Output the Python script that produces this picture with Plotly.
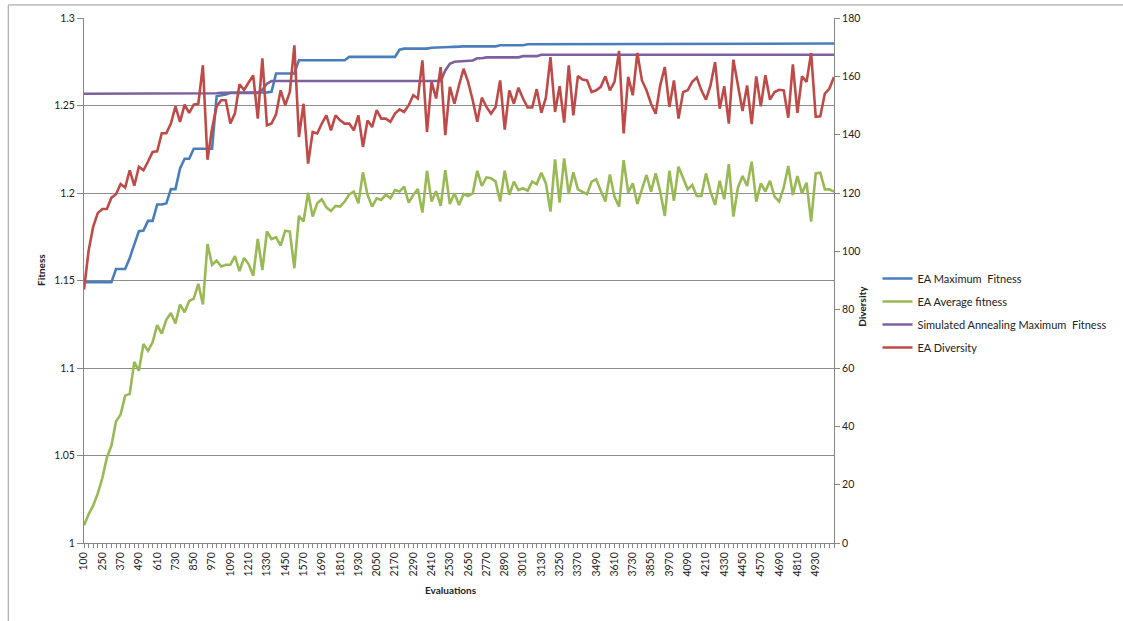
import plotly.graph_objects as go

# Evaluation counts on the category axis (every 4th one is labelled)
evaluations = [
    100, 160, 190, 220, 250, 280, 310, 340, 370, 400, 430, 460, 490, 520, 550, 580,
    610, 640, 670, 700, 730, 760, 790, 820, 850, 880, 910, 940, 970, 1000, 1030, 1060,
    1090, 1120, 1150, 1180, 1210, 1240, 1270, 1300, 1330, 1360, 1390, 1420, 1450, 1480,
    1510, 1540, 1570, 1600, 1630, 1660, 1690, 1720, 1750, 1780, 1810, 1840, 1870, 1900,
    1930, 1960, 1990, 2020, 2050, 2080, 2110, 2140, 2170, 2200, 2230, 2260, 2290, 2320,
    2350, 2380, 2410, 2440, 2470, 2500, 2530, 2560, 2590, 2620, 2650, 2680, 2710, 2740,
    2770, 2800, 2830, 2860, 2890, 2920, 2950, 2980, 3010, 3040, 3070, 3100, 3130, 3160,
    3190, 3220, 3250, 3280, 3310, 3340, 3370, 3400, 3430, 3460, 3490, 3520, 3550, 3580,
    3610, 3640, 3670, 3700, 3730, 3760, 3790, 3820, 3850, 3880, 3910, 3940, 3970, 4000,
    4030, 4060, 4090, 4120, 4150, 4180, 4210, 4240, 4270, 4300, 4330, 4360, 4390, 4420,
    4450, 4480, 4510, 4540, 4570, 4600, 4630, 4660, 4690, 4720, 4750, 4780, 4810, 4840,
    4870, 4900, 4930, 4960, 4990, 5020, 5050,
]

tick_labels = [
    "100", "250", "370", "490", "610", "730", "850", "970", "1090", "1210", "1330",
    "1450", "1570", "1690", "1810", "1930", "2050", "2170", "2290", "2410", "2530",
    "2650", "2770", "2890", "3010", "3130", "3250", "3370", "3490", "3610", "3730",
    "3850", "3970", "4090", "4210", "4330", "4450", "4570", "4690", "4810", "4930",
]

ea_max_fitness = [
    1.1491, 1.1491, 1.1491, 1.1491, 1.1491, 1.1491, 1.1491, 1.1566, 1.1566, 1.1566,
    1.1629, 1.1708, 1.1782, 1.1786, 1.1841, 1.1841, 1.1934, 1.1934, 1.1940, 1.2022,
    1.2022, 1.2140, 1.2196, 1.2196, 1.2253, 1.2253, 1.2253, 1.2253, 1.2253, 1.2553,
    1.2556, 1.2563, 1.2573, 1.2573, 1.2573, 1.2573, 1.2573, 1.2573, 1.2573, 1.2573,
    1.2575, 1.2578, 1.2683, 1.2683, 1.2683, 1.2683, 1.2683, 1.2759, 1.2759, 1.2759,
    1.2759, 1.2759, 1.2759, 1.2759, 1.2759, 1.2759, 1.2759, 1.2759, 1.2778, 1.2778,
    1.2778, 1.2778, 1.2778, 1.2778, 1.2778, 1.2778, 1.2778, 1.2778, 1.2778, 1.2819,
    1.2825, 1.2825, 1.2825, 1.2825, 1.2825, 1.2825, 1.2830, 1.2830, 1.2830, 1.2832,
    1.2834, 1.2835, 1.2838, 1.2838, 1.2838, 1.2838, 1.2838, 1.2838, 1.2838, 1.2838,
    1.2838, 1.2844, 1.2844, 1.2844, 1.2844, 1.2844, 1.2844, 1.2850, 1.2850, 1.2850,
    1.2850, 1.2850, 1.2850, 1.2850, 1.2854, 1.2854, 1.2854, 1.2854, 1.2854, 1.2854,
    1.2854, 1.2854, 1.2854, 1.2854, 1.2854, 1.2854, 1.2854, 1.2854, 1.2854, 1.2854,
    1.2854, 1.2854, 1.2854, 1.2854, 1.2854, 1.2854, 1.2854, 1.2854, 1.2854, 1.2854,
    1.2854, 1.2854, 1.2854, 1.2854, 1.2854, 1.2854, 1.2854, 1.2854, 1.2854, 1.2854,
    1.2854, 1.2854, 1.2854, 1.2854, 1.2854, 1.2854, 1.2854, 1.2854, 1.2854, 1.2854,
    1.2854, 1.2854, 1.2854, 1.2854, 1.2854, 1.2854, 1.2854, 1.2854, 1.2854, 1.2854,
    1.2854, 1.2854, 1.2854, 1.2854, 1.2854,
]

ea_avg_fitness = [
    1.0101, 1.0164, 1.0213, 1.0282, 1.0370, 1.0488, 1.0557, 1.0695, 1.0734, 1.0842,
    1.0852, 1.1035, 1.0984, 1.1137, 1.1098, 1.1147, 1.1245, 1.1196, 1.1275, 1.1314,
    1.1255, 1.1363, 1.1318, 1.1383, 1.1397, 1.1481, 1.1363, 1.1708, 1.1590, 1.1613,
    1.1580, 1.1590, 1.1590, 1.1639, 1.1554, 1.1629, 1.1594, 1.1527, 1.1737, 1.1560,
    1.1780, 1.1737, 1.1747, 1.1700, 1.1785, 1.1780, 1.1570, 1.1869, 1.1837, 1.2002,
    1.1865, 1.1941, 1.1964, 1.1918, 1.1897, 1.1926, 1.1922, 1.1951, 1.1992, 1.2008,
    1.1941, 1.2118, 1.1989, 1.1922, 1.1970, 1.1960, 1.1992, 1.1970, 1.2017, 1.2008,
    1.2036, 1.1945, 1.1989, 1.2023, 1.1888, 1.2127, 1.1951, 1.2011, 1.1926, 1.2131,
    1.1937, 1.1998, 1.1932, 1.1994, 1.1983, 1.1998, 1.2127, 1.2040, 1.2089, 1.2084,
    1.2065, 1.1951, 1.2127, 1.1989, 1.2065, 1.2017, 1.2027, 1.2013, 1.2065, 1.2051,
    1.2116, 1.2055, 1.1894, 1.2192, 1.1945, 1.2198, 1.1994, 1.2118, 1.2021, 1.2008,
    1.1994, 1.2065, 1.2078, 1.2013, 1.1951, 1.2106, 1.1979, 1.1922, 1.2188, 1.2002,
    1.2055, 1.1937, 1.2017, 1.2103, 1.2008, 1.2112, 1.2008, 1.1869, 1.2127, 1.1956,
    1.2150, 1.2084, 1.2021, 1.2046, 1.1983, 1.1983, 1.2112, 1.2008, 1.1932, 1.2070,
    1.1964, 1.2165, 1.1865, 1.2032, 1.2097, 1.2040, 1.2179, 1.1951, 1.2055, 1.2008,
    1.2070, 1.1979, 1.1951, 1.2030, 1.2154, 1.1989, 1.2097, 1.1998, 1.2059, 1.1837,
    1.2112, 1.2116, 1.2021, 1.2021, 1.2008,
]

sa_max_fitness = [
    1.2567, 1.2567, 1.2567, 1.2567, 1.2567, 1.2567, 1.2567, 1.2567, 1.2567, 1.2567,
    1.2567, 1.2567, 1.2567, 1.2567, 1.2567, 1.2567, 1.2567, 1.2567, 1.2567, 1.2567,
    1.2567, 1.2567, 1.2567, 1.2567, 1.2567, 1.2567, 1.2567, 1.2567, 1.2567, 1.2570,
    1.2572, 1.2572, 1.2572, 1.2572, 1.2572, 1.2572, 1.2572, 1.2572, 1.2572, 1.2590,
    1.2625, 1.2640, 1.2640, 1.2640, 1.2640, 1.2640, 1.2640, 1.2640, 1.2640, 1.2640,
    1.2640, 1.2640, 1.2640, 1.2640, 1.2640, 1.2640, 1.2640, 1.2640, 1.2640, 1.2640,
    1.2640, 1.2640, 1.2640, 1.2640, 1.2640, 1.2640, 1.2640, 1.2640, 1.2640, 1.2640,
    1.2640, 1.2640, 1.2640, 1.2640, 1.2640, 1.2640, 1.2640, 1.2640, 1.2640, 1.2700,
    1.2739, 1.2750, 1.2752, 1.2757, 1.2757, 1.2757, 1.2770, 1.2770, 1.2775, 1.2775,
    1.2775, 1.2775, 1.2775, 1.2775, 1.2775, 1.2775, 1.2782, 1.2782, 1.2782, 1.2782,
    1.2790, 1.2790, 1.2790, 1.2790, 1.2790, 1.2790, 1.2790, 1.2790, 1.2790, 1.2790,
    1.2790, 1.2790, 1.2790, 1.2790, 1.2790, 1.2790, 1.2790, 1.2790, 1.2790, 1.2790,
    1.2790, 1.2790, 1.2790, 1.2790, 1.2790, 1.2790, 1.2790, 1.2790, 1.2790, 1.2790,
    1.2790, 1.2790, 1.2790, 1.2790, 1.2790, 1.2790, 1.2790, 1.2790, 1.2790, 1.2790,
    1.2790, 1.2790, 1.2790, 1.2790, 1.2790, 1.2790, 1.2790, 1.2790, 1.2790, 1.2790,
    1.2790, 1.2790, 1.2790, 1.2790, 1.2790, 1.2790, 1.2790, 1.2790, 1.2790, 1.2790,
    1.2790, 1.2790, 1.2790, 1.2790, 1.2790,
]

ea_diversity = [
    86.9, 100.1, 108.4, 113.1, 114.5, 114.5, 118.4, 119.6, 123.1, 121.9,
    127.8, 122.5, 129.0, 127.8, 130.8, 134.1, 134.3, 140.5, 140.5, 143.8,
    149.7, 144.4, 150.3, 147.5, 150.3, 150.6, 163.8, 131.4, 142.0, 149.7,
    151.8, 151.8, 143.8, 147.3, 157.3, 155.3, 157.9, 160.3, 145.5, 166.2,
    143.2, 143.8, 147.0, 155.2, 150.1, 154.6, 170.6, 139.2, 150.6, 130.1,
    140.9, 140.4, 143.8, 146.6, 141.5, 146.6, 144.9, 143.8, 143.8, 141.5,
    146.6, 135.8, 144.9, 142.6, 148.4, 145.5, 145.5, 144.4, 147.2, 148.7,
    147.8, 150.1, 153.5, 152.4, 165.5, 140.9, 158.1, 152.4, 163.2, 139.8,
    156.4, 150.6, 156.9, 162.6, 158.0, 151.8, 144.4, 152.7, 149.5, 147.2,
    149.5, 158.6, 141.7, 155.2, 150.6, 156.1, 152.4, 149.3, 149.3, 155.6,
    147.5, 152.7, 166.6, 147.8, 156.6, 144.1, 163.8, 146.6, 160.1, 158.9,
    158.6, 154.6, 155.2, 156.4, 160.0, 155.2, 158.1, 168.7, 140.4, 159.8,
    153.5, 168.0, 158.6, 155.2, 150.6, 147.2, 156.9, 163.2, 149.5, 158.6,
    145.5, 154.6, 155.2, 158.1, 159.6, 155.2, 152.0, 156.9, 164.9, 148.9,
    156.6, 143.8, 165.7, 157.5, 148.1, 156.9, 143.6, 160.0, 149.7, 160.4,
    152.0, 154.6, 155.4, 155.2, 145.8, 164.1, 147.5, 160.0, 158.1, 168.0,
    146.1, 146.3, 154.1, 155.8, 159.8,
]

x_cats = [str(e) for e in evaluations]
x_ticktext = [c if c in tick_labels else "" for c in x_cats]

font_family = "Lato, 'Liberation Sans', sans-serif"
axis_grey = "#868686"

fig = go.Figure()

fig.add_trace(go.Scatter(x=x_cats, y=ea_max_fitness, mode="lines", name="EA Maximum\u00a0 Fitness",
                         line=dict(color="#4A7EBB", width=2.6), legendgroup="a"))
fig.add_trace(go.Scatter(x=x_cats, y=ea_avg_fitness, mode="lines", name="EA Average fitness",
                         line=dict(color="#98B954", width=2.6), legendgroup="b"))
fig.add_trace(go.Scatter(x=x_cats, y=sa_max_fitness, mode="lines", name="Simulated Annealing Maximum\u00a0 Fitness",
                         line=dict(color="#7D60A0", width=2.6), legendgroup="c"))
fig.add_trace(go.Scatter(x=x_cats, y=ea_diversity, mode="lines", name="EA Diversity", yaxis="y2",
                         line=dict(color="#BE4B48", width=2.6), legendgroup="d"))

fitness_ticks = [1, 1.05, 1.1, 1.15, 1.2, 1.25, 1.3]
fitness_text = ["1", "1.05", "1.1", "1.15", "1.2", "1.25", "1.3"]
diversity_ticks = [0, 20, 40, 60, 80, 100, 120, 140, 160, 180]

fig.update_layout(
    width=1123, height=621,
    margin=dict(l=84, r=287, t=18, b=78),
    paper_bgcolor="white", plot_bgcolor="white",
    font=dict(family=font_family, size=10, color="#222222"),
    xaxis=dict(
        type="category", range=[0, len(x_cats) - 1],
        tickmode="array", tickvals=x_cats, ticktext=x_ticktext,
        tickangle=-90, tickfont=dict(size=10.5),
        ticks="outside", ticklen=4, tickcolor=axis_grey,
        showline=True, linecolor=axis_grey, linewidth=1,
        showgrid=False, zeroline=False,
    ),
    yaxis=dict(
        range=[1, 1.3], tickmode="array", tickvals=fitness_ticks, ticktext=fitness_text,
        tickfont=dict(size=10.5),
        ticks="outside", ticklen=6, tickcolor=axis_grey,
        showline=True, linecolor=axis_grey, linewidth=1,
        showgrid=True, gridcolor="#8c8c8c", gridwidth=1, zeroline=False,
    ),
    yaxis2=dict(
        range=[0, 180], overlaying="y", side="right",
        tickmode="array", tickvals=diversity_ticks, tickfont=dict(size=10.5),
        ticks="outside", ticklen=5, tickcolor=axis_grey,
        showline=True, linecolor=axis_grey, linewidth=1,
        showgrid=False, zeroline=False,
    ),
    legend=dict(
        x=1.058, y=0.438, xanchor="left", yanchor="middle",
        font=dict(size=11, color="#222222"), tracegroupgap=4,
        bgcolor="rgba(0,0,0,0)",
    ),
    showlegend=True,
    annotations=[
        dict(text="<b>Fitness</b>", xref="paper", yref="paper", x=-0.068, y=0.52,
             textangle=-90, showarrow=False, font=dict(size=10)),
        dict(text="<b>Diversity</b>", xref="paper", yref="paper", x=1.048, y=0.45,
             textangle=-90, showarrow=False, font=dict(size=10)),
        dict(text="<b>Evaluations</b>", xref="paper", yref="paper", x=0.489, y=-0.105,
             showarrow=False, font=dict(size=10)),
    ],
    shapes=[
        dict(type="rect", xref="paper", yref="paper", x0=-0.101, x1=1.45, y0=-0.25, y1=1.0248,
             line=dict(color="#9a9a9a", width=1), fillcolor="rgba(0,0,0,0)", layer="below"),
    ],
)

fig.write_html("out.html", config={"displayModeBar": False},
               post_script="document.body.style.margin='0';")
